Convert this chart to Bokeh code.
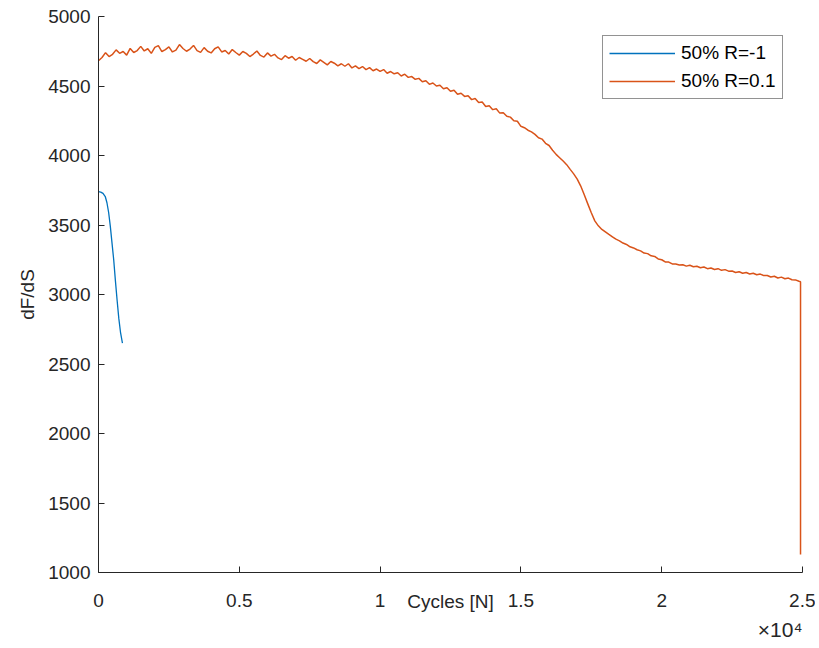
from bokeh.plotting import figure
from bokeh.models import Range1d, Legend, LegendItem, Title, FixedTicker
from bokeh.embed import file_html
from bokeh.resources import INLINE

# ---- data ----
cycles_rm1 = [0, 80, 160, 240, 300, 360, 420, 480, 540, 600, 660, 720, 780, 850]
dfds_rm1 = [3740, 3737, 3728, 3705, 3660, 3590, 3490, 3370, 3250, 3100, 2960, 2830, 2730, 2650]

cycles_r01 = [i * 125 for i in range(200)] + [24930, 24930]
dfds_r01 = [
    4682, 4705, 4740, 4712, 4728, 4760, 4735, 4748, 4722, 4770,
    4741, 4755, 4785, 4752, 4768, 4735, 4778, 4790, 4748, 4762,
    4781, 4745, 4758, 4798, 4770, 4750, 4766, 4792, 4755, 4742,
    4776, 4750, 4738, 4768, 4782, 4745, 4755, 4730, 4762, 4741,
    4722, 4748, 4735, 4712, 4730, 4752, 4720, 4708, 4738, 4715,
    4728, 4702, 4690, 4718, 4700, 4712, 4685, 4705, 4692, 4678,
    4698, 4675, 4662, 4688, 4670, 4652, 4676, 4664, 4645, 4660,
    4642, 4660, 4630, 4645, 4625, 4640, 4618, 4632, 4610, 4622,
    4605, 4618, 4592, 4604, 4588, 4595, 4572, 4585, 4562, 4568,
    4548, 4555, 4530, 4538, 4512, 4522, 4500, 4505, 4480, 4488,
    4462, 4470, 4440, 4448, 4425, 4430, 4402, 4410, 4382, 4385,
    4352, 4358, 4330, 4336, 4305, 4308, 4282, 4276, 4250, 4246,
    4210, 4200, 4182, 4170, 4152, 4128, 4118, 4088, 4072, 4038,
    4008, 3984, 3960, 3934, 3900, 3868, 3830, 3780, 3718, 3652,
    3588, 3530, 3494, 3468, 3450, 3432, 3415, 3398, 3386, 3370,
    3360, 3343, 3335, 3322, 3314, 3298, 3294, 3278, 3274, 3256,
    3250, 3234, 3233, 3220, 3219, 3212, 3214, 3204, 3210, 3200,
    3203, 3192, 3198, 3186, 3191, 3180, 3186, 3174, 3179, 3168,
    3169, 3158, 3164, 3153, 3158, 3148, 3153, 3142, 3147, 3136,
    3137, 3126, 3131, 3119, 3125, 3113, 3118, 3106, 3105, 3095,
    3092, 1130,
]

x_tick_values = [0, 5000, 10000, 15000, 20000, 25000]
x_tick_labels = ["0", "0.5", "1", "1.5", "2", "2.5"]
y_tick_values = [1000, 1500, 2000, 2500, 3000, 3500, 4000, 4500, 5000]
x_exponent = "×10⁴"

series_names = ["50% R=-1", "50% R=0.1"]
series_colors = ["#0072BD", "#D95319"]

FONT = "Liberation Sans"
TXT = "#262626"

p = figure(width=815, height=646,
           x_range=Range1d(0, 25000), y_range=Range1d(1000, 5000),
           output_backend="svg", toolbar_location=None,
           min_border_left=98, min_border_right=13,
           min_border_top=16, min_border_bottom=74)

p.background_fill_color = "white"
p.border_fill_color = "white"
p.outline_line_color = None
p.xgrid.visible = False
p.ygrid.visible = False

l1 = p.line(cycles_rm1, dfds_rm1, line_color=series_colors[0], line_width=1.3)
l2 = p.line(cycles_r01, dfds_r01, line_color=series_colors[1], line_width=1.5)

for ax in (p.xaxis[0], p.yaxis[0]):
    ax.axis_line_color = TXT
    ax.axis_line_width = 1
    ax.major_tick_line_color = TXT
    ax.major_tick_in = 6
    ax.major_tick_out = 0
    ax.minor_tick_line_color = None
    ax.major_label_text_font = FONT
    ax.major_label_text_font_size = "19px"
    ax.major_label_text_color = TXT
    ax.axis_label_text_font = FONT
    ax.axis_label_text_font_size = "19px"
    ax.axis_label_text_font_style = "normal"
    ax.axis_label_text_color = TXT

p.xaxis.ticker = FixedTicker(ticks=x_tick_values)
p.xaxis.major_label_overrides = {v: s for v, s in zip(x_tick_values, x_tick_labels)}
p.xaxis.major_label_standoff = 21
p.xaxis.axis_label = "Cycles [N]"
p.xaxis.axis_label_standoff = -19

p.yaxis.ticker = FixedTicker(ticks=y_tick_values)
p.yaxis.major_label_standoff = 8
p.yaxis.axis_label = "dF/dS"
p.yaxis.axis_label_standoff = 7

# x10^4 exponent note under the x axis, right-aligned
p.add_layout(Title(text=x_exponent, align="right", text_font=FONT,
                   text_font_size="21px", text_font_style="normal",
                   text_color=TXT, standoff=3, offset=0), "below")

legend = Legend(items=[LegendItem(label=series_names[0], renderers=[l1]),
                       LegendItem(label=series_names[1], renderers=[l2])],
                location="top_right", margin=19, padding=6, spacing=6,
                glyph_width=66, glyph_height=20, label_height=20,
                label_width=95, label_standoff=6,
                label_text_font=FONT, label_text_font_size="19px",
                label_text_color="#000000",
                border_line_color=TXT, border_line_width=1,
                background_fill_color="white", background_fill_alpha=1)
p.add_layout(legend)

open("out.html", "w").write(file_html(p, INLINE))
